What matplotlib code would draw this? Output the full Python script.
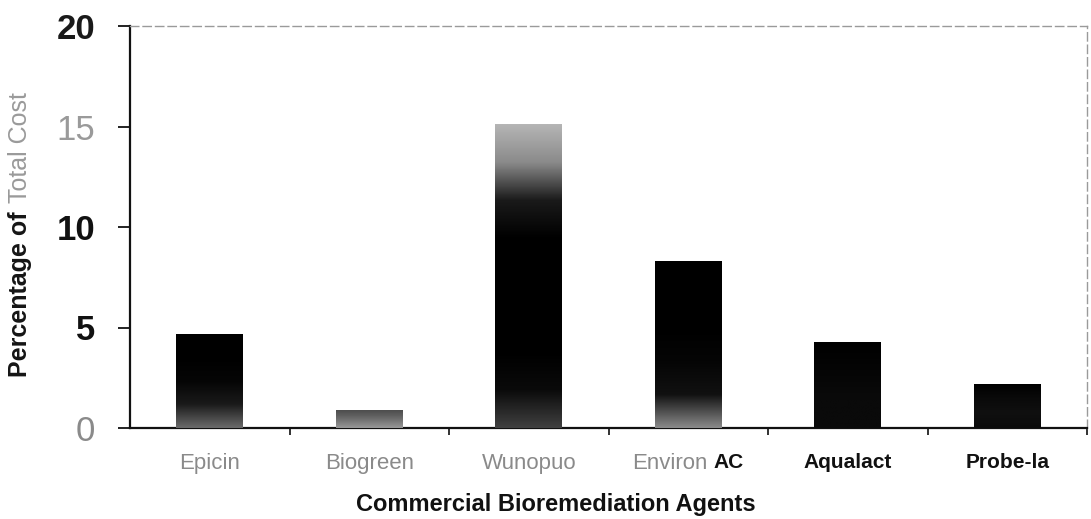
import numpy as np
import matplotlib
matplotlib.use("Agg")
import matplotlib.pyplot as plt
from matplotlib.colors import LinearSegmentedColormap

plt.rcParams['font.family'] = ['Liberation Sans', 'DejaVu Sans']

# data
agents = ["Epicin", "Biogreen", "Wunopuo", "Environ AC", "Aqualact", "Probe-la"]
cost_pct = [4.7, 0.9, 15.1, 8.3, 4.3, 2.2]
y_ticks = [0, 5, 10, 15, 20]

# scan-like shading of the bars (top -> bottom), purely cosmetic
shades = [
    ["#000000", "#000000", "#050505", "#1a1a1a", "#6a6a6a"],
    ["#4a4a4a", "#5e5e5e", "#7a7a7a", "#999999"],
    ["#b5b5b5", "#8a8a8a", "#1a1a1a", "#000000", "#000000", "#000000", "#000000",
     "#0a0a0a", "#404040"],
    ["#000000", "#000000", "#000000", "#050505", "#111111", "#8a8a8a"],
    ["#000000", "#050505", "#0a0a0a", "#0a0a0a"],
    ["#000000", "#0a0a0a", "#101010", "#0a0a0a"],
]

fig = plt.figure(figsize=(10.91, 5.19), dpi=100)
ax = fig.add_axes([130 / 1091, 1 - 428 / 519, 957 / 1091, 402 / 519])

x = np.arange(len(agents))
bars = ax.bar(x, cost_pct, width=0.42, color="black", zorder=2)

# gradient fill clipped to each bar (row 0 = bottom)
for b, cols in zip(bars, shades):
    cmap = LinearSegmentedColormap.from_list("g", cols)
    grad = np.linspace(1, 0, 256).reshape(-1, 1)
    x0, y0 = b.get_x(), b.get_y()
    im = ax.imshow(grad, cmap=cmap, vmin=0, vmax=1, aspect="auto", zorder=3,
                   extent=[x0, x0 + b.get_width(), y0, y0 + b.get_height()],
                   origin="lower")
    im.set_clip_path(b)

ax.set_xlim(-0.5, len(agents) - 0.5)
ax.set_ylim(0, 20)

# spines
for s in ["left", "bottom"]:
    ax.spines[s].set_linewidth(1.6)
    ax.spines[s].set_color("#111111")
for s in ["top", "right"]:
    ax.spines[s].set_linestyle((0, (6, 3)))
    ax.spines[s].set_linewidth(1.0)
    ax.spines[s].set_color("#9a9a9a")

# y axis ticks, mixed weight / tone like the scan
ax.set_yticks(y_ticks)
ax.set_yticklabels([str(v) for v in y_ticks])
ax.tick_params(axis="y", length=9, width=1.4, pad=16, labelsize=25, color="#222222")
y_styles = {0: ("#8a8a8a", "normal"), 5: ("#111111", "bold"), 10: ("#111111", "bold"),
            15: ("#9a9a9a", "normal"), 20: ("#1a1a1a", "bold")}
for lab, v in zip(ax.get_yticklabels(), y_ticks):
    lab.set_color(y_styles[v][0])
    lab.set_fontweight(y_styles[v][1])

# x axis: ticks between categories, labels at centres
ax.set_xticks(x)
ax.set_xticks(np.arange(len(agents)) + 0.5, minor=True)
ax.tick_params(axis="x", which="major", length=0, pad=18)
ax.tick_params(axis="x", which="minor", length=5, width=1.3, color="#222222")
x_styles = [("#8a8a8a", "normal", 16), ("#8a8a8a", "normal", 16), ("#8a8a8a", "normal", 16),
            ("#8a8a8a", "normal", 16), ("#111111", "bold", 15), ("#111111", "bold", 15)]
labels = [a if a != "Environ AC" else "" for a in agents]
ax.set_xticklabels(labels)
for lab, (c, w, fs) in zip(ax.get_xticklabels(), x_styles):
    lab.set_color(c)
    lab.set_fontweight(w)
    lab.set_fontsize(fs)

# "Environ AC" has two tones
env_i = agents.index("Environ AC")
ax.annotate("Environ", xy=(env_i, 0), xycoords=("data", "axes fraction"),
            xytext=(14, -18), textcoords="offset points", ha="right", va="top",
            fontsize=16, color="#8a8a8a")
ax.annotate("AC", xy=(env_i, 0), xycoords=("data", "axes fraction"),
            xytext=(18, -18), textcoords="offset points", ha="left", va="top",
            fontsize=15, color="#111111", fontweight="bold")

# axis titles
fig.text(556 / 1091, 1 - 505 / 519, "Commercial Bioremediation Agents", ha="center",
         va="center", fontsize=17, fontweight="bold", color="#111111")

# y title: dark "Percentage of" then pale "Total Cost"
t1 = fig.text(20 / 1091, 1 - 377 / 519, "Percentage of", rotation=90, ha="center",
              va="bottom", fontsize=18, fontweight="bold", color="#151515")
fig.canvas.draw()
bb = t1.get_window_extent(fig.canvas.get_renderer())
fig.text(20 / 1091, (bb.y1 + 8) / 519, "Total Cost", rotation=90, ha="center",
         va="bottom", fontsize=18, color="#9a9a9a")

fig.savefig("out.png", dpi=100)
